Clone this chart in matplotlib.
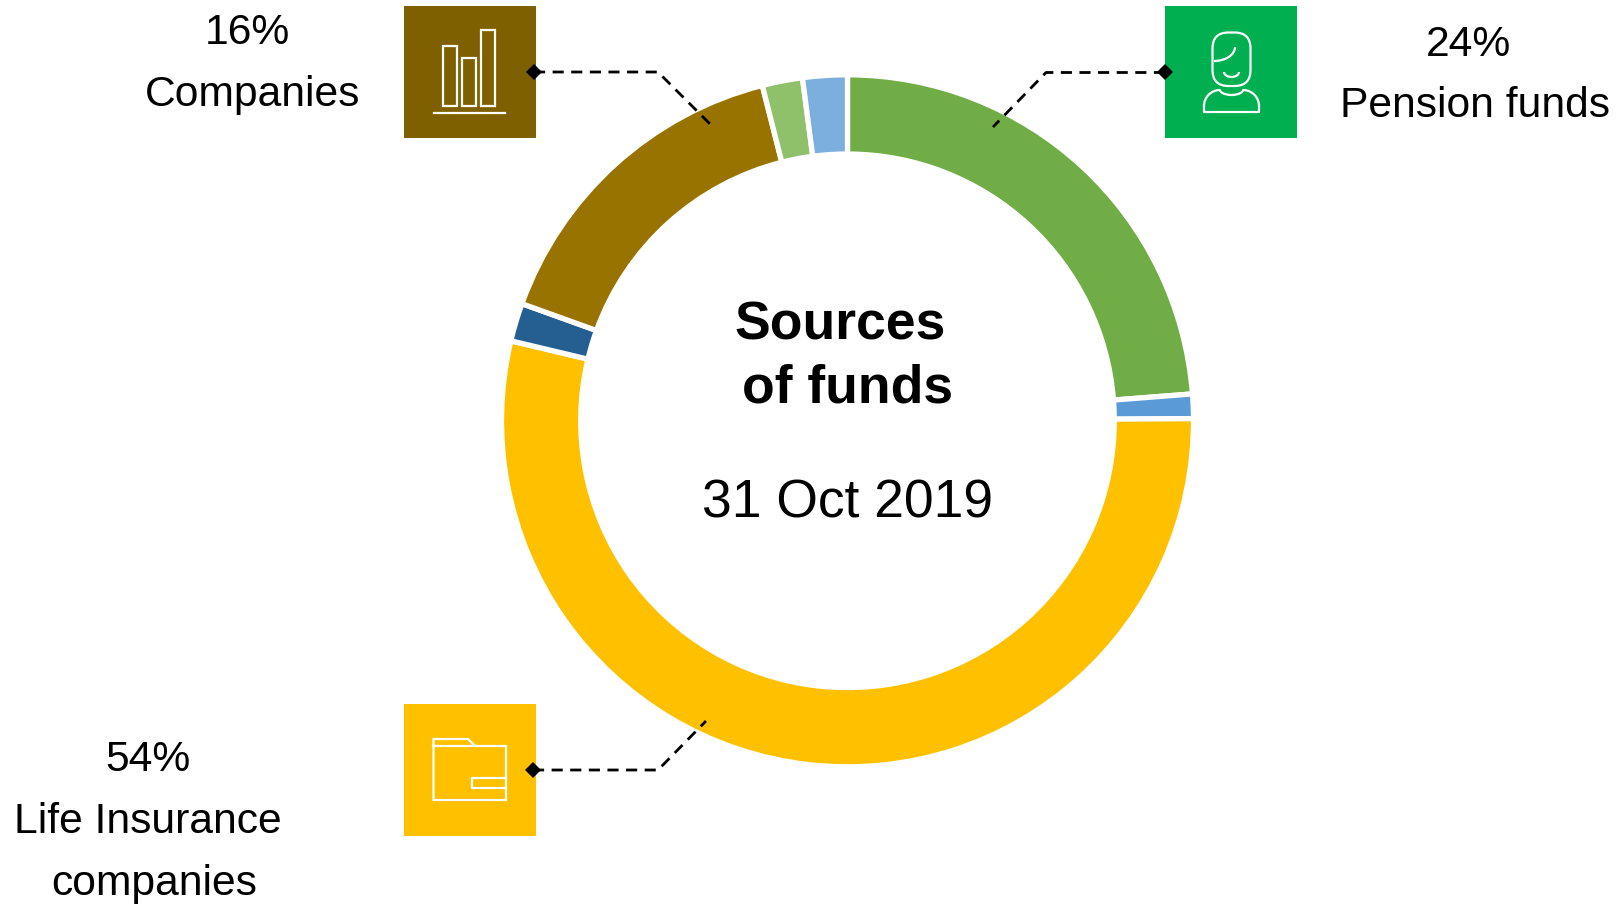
import matplotlib
matplotlib.use('Agg')
import matplotlib.pyplot as plt
from matplotlib.patches import Rectangle, Arc, FancyBboxPatch

plt.rcParams['font.family'] = ['Liberation Sans', 'DejaVu Sans']

# Donut data, clockwise from the top
shares = [24, 1.15, 54.35, 1.8, 15.7, 1.9, 2.1]
colors = ["#70AD47", "#5B9BD5", "#FFC000", "#255E91", "#997300", "#8FC16B", "#7CAFDD"]

# Callouts
box_colors = ["#7F6000", "#00B050", "#FFC000"]

W, H = 1618, 905
fig = plt.figure(figsize=(W / 100, H / 100), dpi=100)

# Donut
cx, cy, r = 847.5, 420.8, 346
ax = fig.add_axes([(cx - r) / W, 1 - (cy + r) / H, 2 * r / W, 2 * r / H])
ax.pie(shares, colors=colors, startangle=90, counterclock=False, radius=1,
       wedgeprops=dict(width=0.229, edgecolor="white", linewidth=3.8))
ax.set_xlim(-1, 1)
ax.set_ylim(-1, 1)

# Overlay in pixel coordinates for boxes, icons and text
top = fig.add_axes([0, 0, 1, 1])
top.set_xlim(0, W)
top.set_ylim(H, 0)
top.axis("off")
top.patch.set_alpha(0)

# Coloured boxes
for x, y, c in [(404, 6, box_colors[0]), (1165, 6, box_colors[1]), (404, 704, box_colors[2])]:
    top.add_patch(Rectangle((x, y), 132, 132, fc=c, ec="none"))

# Dashed leader lines with diamond ends
leaders = [([534, 658, 710], [72, 72, 124]),
           ([1165, 1046, 993], [72.5, 72.5, 127]),
           ([533, 658, 706], [770, 770, 721])]
for xs, ys in leaders:
    top.plot(xs, ys, color="black", lw=2.0, dashes=(4.0, 2.7), dash_capstyle="butt")
    top.plot(xs[0], ys[0], marker="D", ms=8, color="black", mew=0)

# Bar chart icon
ic = dict(fc="none", ec="white", lw=1.6)
for x0, x1, y0 in [(443.5, 457.5, 46), (462.5, 476.5, 58), (481.5, 495.5, 30)]:
    top.add_patch(Rectangle((x0, y0), x1 - x0, 106 - y0, **ic))
top.plot([434, 505], [113.5, 113.5], color="white", lw=1.6)

# Person icon
top.add_patch(FancyBboxPatch((1212.5, 32.5), 38, 53.5, boxstyle="round,pad=0,rounding_size=16", **ic))
top.add_patch(Arc((1214, 47), 42, 28, theta1=0, theta2=90, ec="white", lw=1.6))
top.add_patch(Arc((1231.5, 72), 15, 10, theta1=0, theta2=180, ec="white", lw=1.6))
top.plot([1204, 1204, 1259, 1259], [106, 112, 112, 106], color="white", lw=1.6)
top.add_patch(Arc((1220, 106), 32, 32, theta1=180, theta2=270, ec="white", lw=1.6))
top.add_patch(Arc((1243, 106), 32, 32, theta1=270, theta2=360, ec="white", lw=1.6))
top.add_patch(Arc((1231.5, 89), 24, 12, theta1=0, theta2=180, ec="white", lw=1.6))

# Folder icon
top.plot([433.5, 433.5, 468, 475, 506, 506, 433.5, 433.5],
         [746, 739, 739, 746, 746, 800, 800, 746], color="white", lw=1.6, solid_joinstyle="miter")
top.plot([433.5, 475], [746, 746], color="white", lw=1.6)
top.plot([506, 472, 472, 506], [778, 778, 788, 788], color="white", lw=1.6)

# Callout labels
top.text(247, 33, "16%", fontsize=30.7, ha="center", va="center")
top.text(252.5, 95, "Companies", fontsize=30.7, ha="center", va="center")
top.text(1469, 45, "24%", fontsize=30.7, ha="center", va="center")
top.text(1475, 106, "Pension funds", fontsize=30.7, ha="center", va="center")
top.text(148, 760, "54%", fontsize=30.7, ha="center", va="center")
top.text(148, 822, "Life Insurance", fontsize=30.7, ha="center", va="center")
top.text(154, 884, "companies", fontsize=30.7, ha="center", va="center")

# Centre text
top.text(840, 325, "Sources", fontsize=38.5, fontweight="bold", ha="center", va="center")
top.text(847.5, 388, "of funds", fontsize=38.5, fontweight="bold", ha="center", va="center")
top.text(848, 503, "31 Oct 2019", fontsize=38.4, ha="center", va="center")

fig.savefig("out.png", dpi=100)
